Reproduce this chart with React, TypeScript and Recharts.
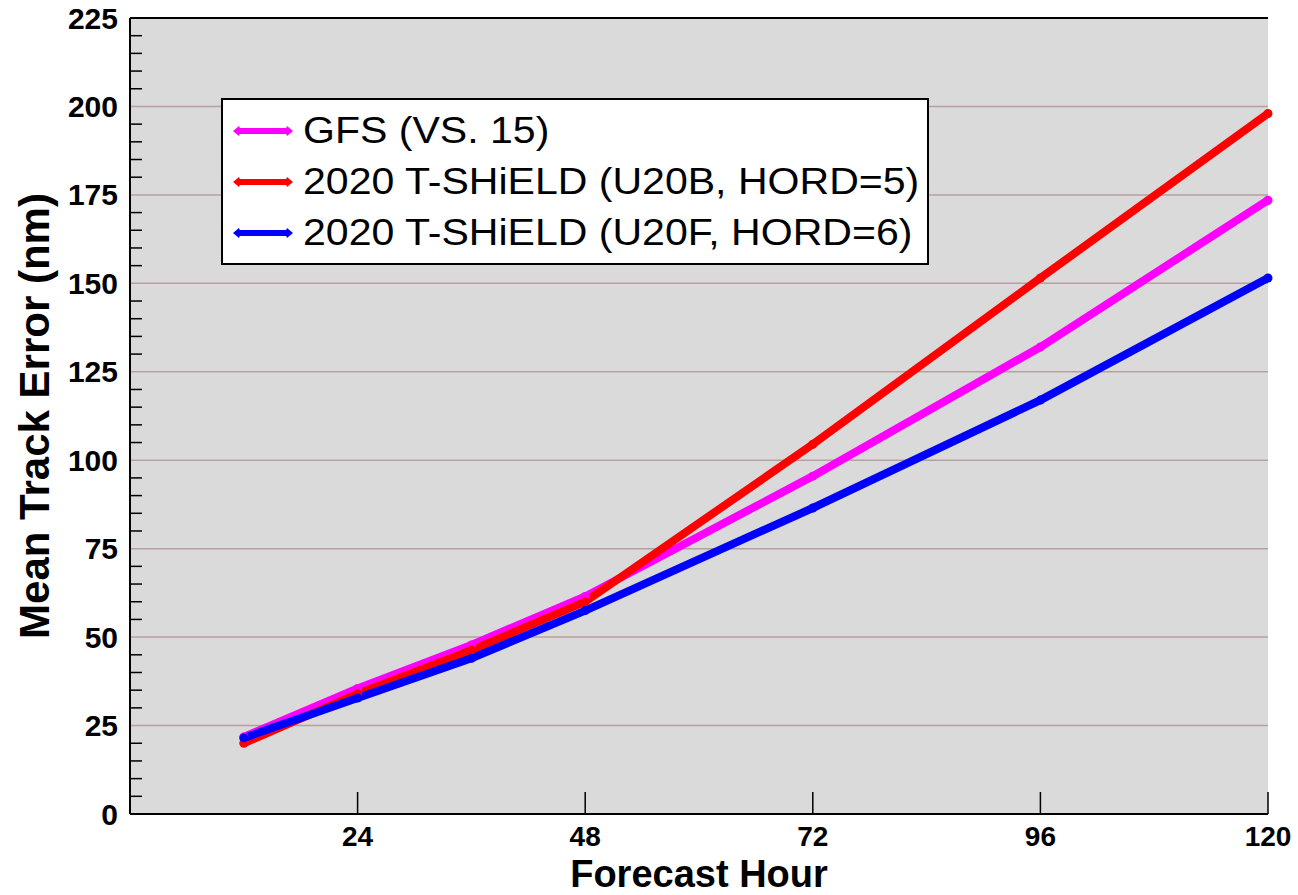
import { LineChart, Line, XAxis, YAxis, CartesianGrid, Legend, ReferenceLine } from 'recharts';

// forecast hours and mean track errors (nm)
const hours = [12, 24, 36, 48, 72, 96, 120];
const gfs = [21.8, 35.5, 47.8, 61.5, 95.5, 132, 173.5];
const u20b = [20, 34, 46.3, 60, 104.5, 151.5, 198];
const u20f = [21.5, 32.8, 44, 57.5, 86.5, 117, 151.5];

const seriesKeys = ['gfs', 'u20b', 'u20f'];
const seriesNames = ['GFS (VS. 15)', '2020 T-SHiELD (U20B, HORD=5)', '2020 T-SHiELD (U20F, HORD=6)'];
const seriesColors = ['#ff00ff', '#ff0000', '#0000ff'];

const xTicks = [24, 48, 72, 96, 120];
const yLabelTicks = [0, 25, 50, 75, 100, 125, 150, 175, 200, 225];
const gridValues = [25, 50, 75, 100, 125, 150, 175, 200];
// minor ticks every 5 nm between the labelled ones
const yAllTicks = yLabelTicks.flatMap((v) => (v < 225 ? [v, v + 5, v + 10, v + 15, v + 20] : [v]));

const FONT = '"Liberation Sans", Arial, Helvetica, sans-serif';

const chartData = hours.map((h, i) => ({ hour: h, gfs: gfs[i], u20b: u20b[i], u20f: u20f[i] }));

function LeftTick(props: any) {
  const { x, y, payload } = props;
  const v = payload.value;
  if (v % 25 === 0) {
    return (
      <text x={x - 12} y={y} textAnchor="end" dominantBaseline="central" fontSize={30} fontWeight="bold" fill="#000" fontFamily={FONT}>
        {v}
      </text>
    );
  }
  return <line x1={x} x2={x + 12} y1={y} y2={y} stroke="#000" strokeWidth={1.5} />;
}

function RightTick(props: any) {
  const { x, y, payload } = props;
  if (payload.value % 25 === 0) return <g />;
  return <line x1={x} x2={x - 12} y1={y} y2={y} stroke="#000" strokeWidth={1.5} />;
}

function BottomTick(props: any) {
  const { x, y, payload } = props;
  return (
    <g>
      <line x1={x} x2={x} y1={y} y2={y - 22} stroke="#000" strokeWidth={1.5} />
      <text x={x} y={y + 22} textAnchor="middle" dominantBaseline="central" fontSize={28} fontWeight="bold" fill="#000" fontFamily={FONT}>
        {payload.value}
      </text>
    </g>
  );
}

function LegendIcon({ color }: { color: string }) {
  return (
    <svg width={62} height={16} style={{ display: 'block' }}>
      <line x1={6} x2={56} y1={8} y2={8} stroke={color} strokeWidth={6} />
      <polygon points="1,8 7,3 9,8 7,13" fill={color} />
      <polygon points="61,8 55,3 53,8 55,13" fill={color} />
    </svg>
  );
}

// legend drawn in the series order of the figure (not sorted)
function LegendBox() {
  return (
    <div
      style={{
        width: 708,
        height: 167,
        boxSizing: 'border-box',
        border: '2px solid #000',
        background: '#fff',
        paddingTop: 5,
        paddingLeft: 9,
        fontFamily: FONT,
      }}
    >
      {seriesNames.map((name, i) => (
        <div key={name} style={{ display: 'flex', alignItems: 'center', height: 51 }}>
          <LegendIcon color={seriesColors[i]} />
          <span
            style={{
              display: 'inline-block',
              marginLeft: 9,
              fontSize: 36,
              color: '#000',
              whiteSpace: 'nowrap',
              transform: 'scaleX(1.14)',
              transformOrigin: 'left center',
            }}
          >
            {name}
          </span>
        </div>
      ))}
    </div>
  );
}

export default function App() {
  return (
    <div style={{ position: 'absolute', left: 0, top: 0, width: 1298, height: 895, background: '#fff', fontFamily: FONT }}>
      <LineChart width={1298} height={895} data={chartData} margin={{ top: 18, right: 30, bottom: 0, left: 0 }}>
        <CartesianGrid
          fill="#dadada"
          fillOpacity={1}
          vertical={false}
          horizontalValues={gridValues}
          stroke="#b89f9f"
          strokeWidth={1.5}
          strokeDasharray=""
        />
        <XAxis
          dataKey="hour"
          type="number"
          domain={[0, 120]}
          ticks={xTicks}
          interval={0}
          height={81}
          tickSize={0}
          tickMargin={0}
          tickLine={false}
          tick={<BottomTick />}
          axisLine={{ stroke: '#000', strokeWidth: 2 }}
          label={{ value: 'Forecast Hour', position: 'insideBottom', offset: 8, style: { fontSize: 38, fontWeight: 'bold', fill: '#000', fontFamily: FONT } }}
        />
        <YAxis
          type="number"
          domain={[0, 225]}
          ticks={yAllTicks}
          interval={0}
          width={130}
          tickSize={0}
          tickMargin={0}
          tickLine={false}
          tick={<LeftTick />}
          axisLine={{ stroke: '#000', strokeWidth: 2 }}
          label={{ value: 'Mean Track Error (nm)', angle: -90, position: 'insideLeft', offset: 34, style: { textAnchor: 'middle', fontSize: 42, fontWeight: 'bold', fill: '#000', fontFamily: FONT } }}
        />
        <YAxis
          yAxisId="r"
          orientation="right"
          type="number"
          domain={[0, 225]}
          ticks={yAllTicks}
          interval={0}
          width={0}
          tickSize={0}
          tickMargin={0}
          tickLine={false}
          tick={<RightTick />}
          axisLine={{ stroke: '#000', strokeWidth: 2 }}
        />
        <ReferenceLine y={225} stroke="#000" strokeWidth={2} />
        {seriesKeys.map((k, i) => (
          <Line
            key={k}
            type="linear"
            dataKey={k}
            name={seriesNames[i]}
            stroke={seriesColors[i]}
            strokeWidth={8}
            dot={{ r: 4.5, fill: seriesColors[i], stroke: 'none' }}
            isAnimationActive={false}
          />
        ))}
        <Legend
          layout="vertical"
          align="center"
          verticalAlign="middle"
          content={<LegendBox />}
          wrapperStyle={{ left: 221, top: 98, width: 708, height: 167 }}
        />
      </LineChart>
    </div>
  );
}
